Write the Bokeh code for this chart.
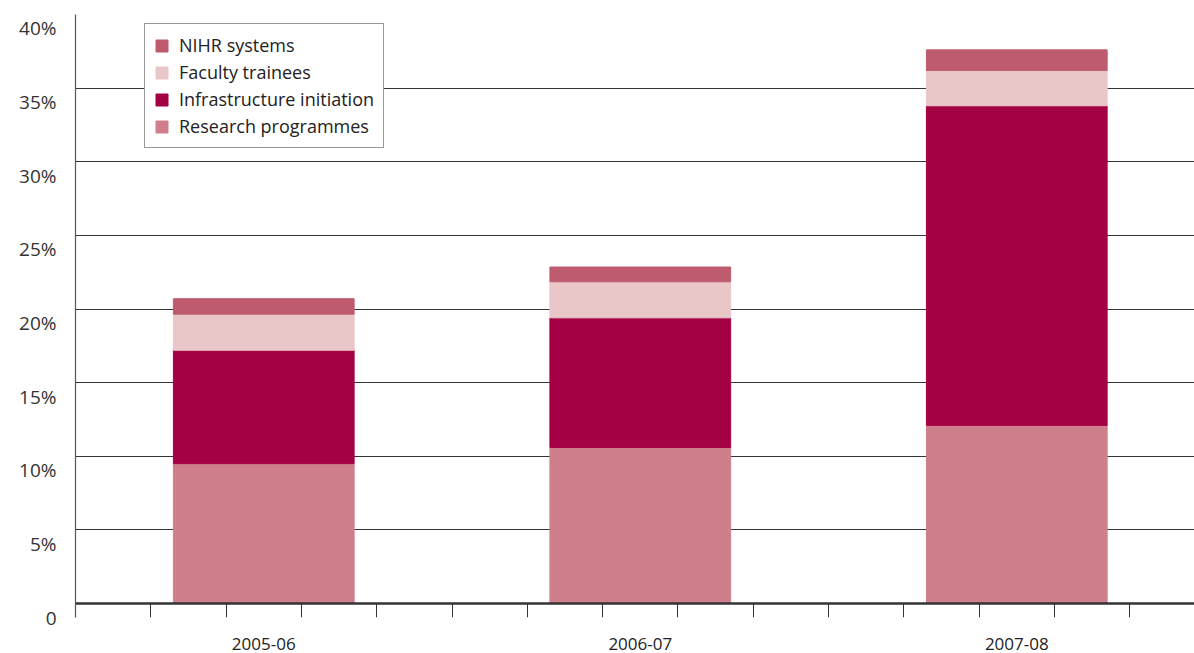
from bokeh.plotting import figure
from bokeh.models import (ColumnDataSource, Range1d, FixedTicker, Legend, LegendItem,
                          LinearAxis)
from bokeh.embed import file_html
from bokeh.resources import INLINE

years = ["2005-06", "2006-07", "2007-08"]
research_programmes = [9.5, 10.6, 12.1]
infrastructure_initiation = [7.7, 8.8, 21.7]
faculty_trainees = [2.45, 2.45, 2.4]
nihr_systems = [1.05, 1.0, 1.4]

series_names = ["Research programmes", "Infrastructure initiation",
                "Faculty trainees", "NIHR systems"]
series_keys = ["research", "infra", "faculty", "nihr"]
colors = ["#CF7F8B", "#A40044", "#E9C6C8", "#BE5B6E"]
y_ticks = [0, 5, 10, 15, 20, 25, 30, 35, 40]
y_labels = ["0", "5%", "10%", "15%", "20%", "25%", "30%", "35%", "40%"]

xpos = [i + 0.5 for i in range(len(years))]
source = ColumnDataSource(dict(
    x=xpos,
    research=research_programmes,
    infra=infrastructure_initiation,
    faculty=faculty_trainees,
    nihr=nihr_systems,
))

FONT = "Open Sans"
SHIFT = 0.95  # labels sit ~14 px below their gridline, as in the original
p = figure(width=1194, height=653, output_backend="svg", toolbar_location=None,
           x_range=Range1d(0, 2.972), y_range=Range1d(-SHIFT, 40),
           min_border_left=75, min_border_right=0, min_border_top=14,
           min_border_bottom=36)
p.outline_line_color = None
p.background_fill_color = "white"
p.border_fill_color = "white"

renderers = p.vbar_stack(series_keys, x="x", width=0.48, color=colors,
                         source=source)

# y axis
shifted = [round(t - SHIFT, 2) for t in y_ticks]
yax = p.yaxis[0]
yax.ticker = FixedTicker(ticks=shifted)
yax.major_label_overrides = {s: l for s, l in zip(shifted, y_labels)}
yax.major_tick_out = 0
yax.major_tick_in = 0
yax.minor_tick_out = 0
yax.minor_tick_in = 0
yax.axis_line_color = "#555555"
yax.axis_line_width = 1.2
yax.major_label_standoff = 19
yax.major_label_text_font = FONT
yax.major_label_text_font_size = "19px"
yax.major_label_text_color = "#333333"

# x axis: category labels along the bottom
xax = p.xaxis[0]
xax.ticker = FixedTicker(ticks=xpos)
xax.major_label_overrides = {x: y for x, y in zip(xpos, years)}
xax.major_tick_out = 0
xax.major_tick_in = 0
xax.minor_tick_out = 0
xax.minor_tick_in = 0
xax.axis_line_color = None
xax.major_label_standoff = 20
xax.major_label_text_font = FONT
xax.major_label_text_font_size = "17px"
xax.major_label_text_color = "#222222"

# baseline axis at 0 with its downward ticks
minor = [round(i * 0.2, 2) for i in range(15)]
base = LinearAxis(fixed_location=0, ticker=FixedTicker(ticks=xpos, minor_ticks=minor))
base.major_tick_out = 0
base.major_tick_in = 0
base.minor_tick_out = 0
base.minor_tick_in = 14
base.minor_tick_line_color = "#333333"
base.minor_tick_line_width = 1
base.axis_line_color = "#333333"
base.axis_line_width = 2.5
base.major_label_text_color = None
base.major_label_text_font_size = "0px"
base.major_label_standoff = 0
p.add_layout(base, "above")

# grid
p.xgrid.grid_line_color = None
p.ygrid.ticker = FixedTicker(ticks=y_ticks[1:])
p.ygrid.grid_line_color = "#333333"
p.ygrid.grid_line_width = 1.2
p.ygrid.level = "underlay"

items = [LegendItem(label=n, renderers=[r]) for n, r in zip(series_names, renderers)]
legend = Legend(items=items[::-1], location=(69, 469))
legend.label_text_font = FONT
legend.label_text_font_size = "18px"
legend.label_text_color = "#222222"
legend.glyph_width = 15
legend.glyph_height = 15
legend.label_height = 20
legend.label_standoff = 10
legend.spacing = 3
legend.padding = 9
legend.margin = 0
legend.border_line_color = "#333333"
legend.border_line_width = 1.2
legend.background_fill_alpha = 1
p.add_layout(legend)

open("out.html", "w").write(file_html(p, INLINE))
